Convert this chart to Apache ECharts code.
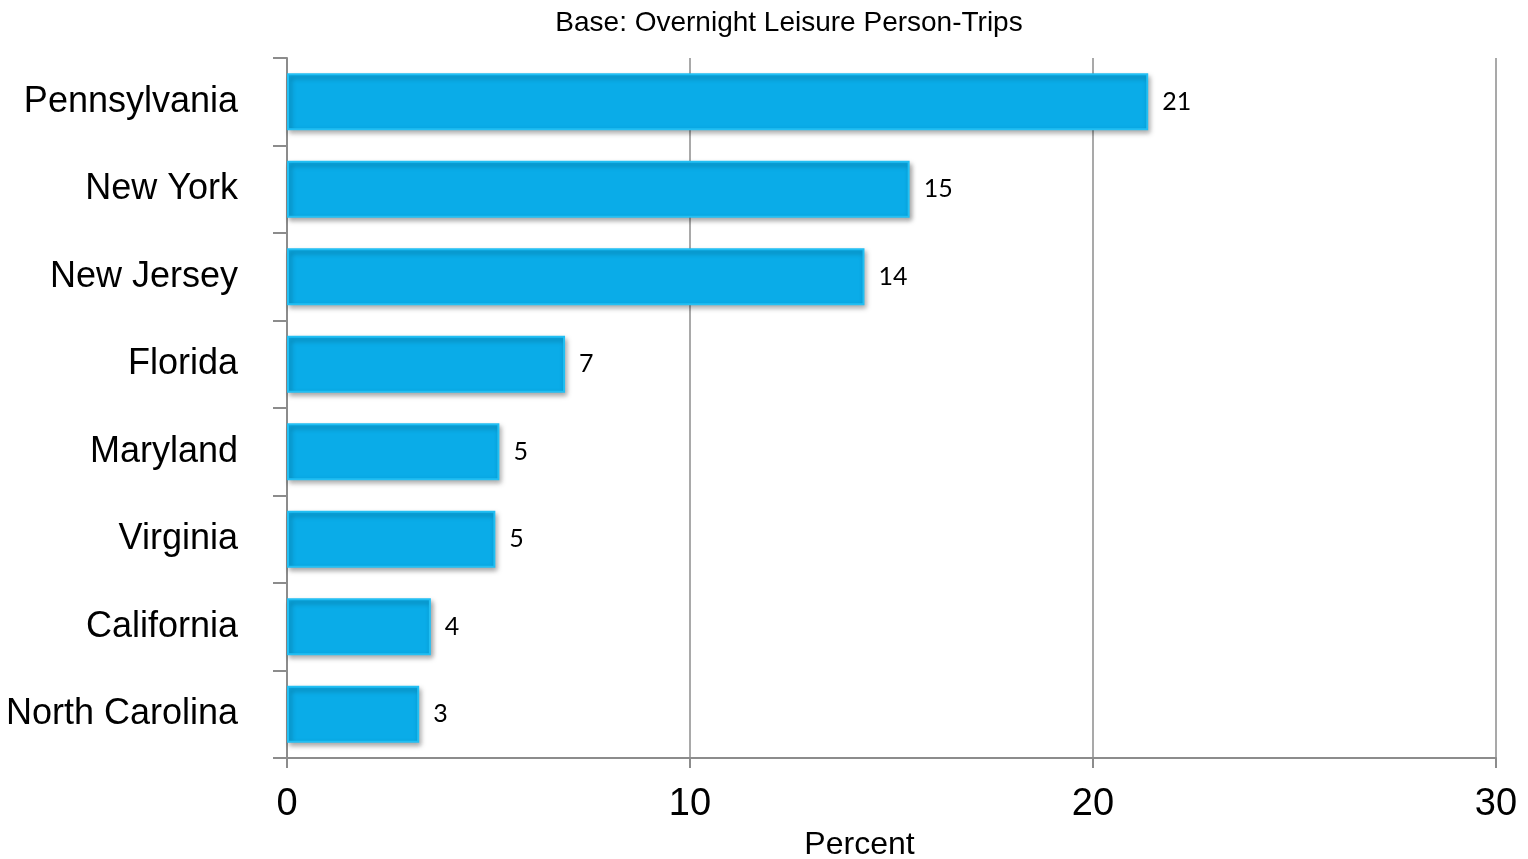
<!DOCTYPE html>
<html>
<head>
<meta charset="utf-8">
<title>Overnight Leisure Person-Trips by Origin State</title>
<script src="https://cdn.jsdelivr.net/npm/echarts@6/dist/echarts.min.js"></script>
<style>
  html, body { margin: 0; padding: 0; background: #fff; }
  #chart { width: 1528px; height: 859px; }
</style>
</head>
<body>
<div id="chart"></div>
<script>
// Origin states, top to bottom
const states = ['Pennsylvania', 'New York', 'New Jersey', 'Florida', 'Maryland', 'Virginia', 'California', 'North Carolina'];
// Share of overnight leisure person-trips (percent)
const shares = [21.37, 15.45, 14.33, 6.9, 5.27, 5.17, 3.57, 3.28];
// Percent axis ticks
const percentTicks = [0, 10, 20, 30];

const chart = echarts.init(document.getElementById('chart'));
const axisGray = '#8c8c8c';
const sans = 'Liberation Sans, Arial, sans-serif';

chart.setOption({
  animation: false,
  title: {
    text: 'Base: Overnight Leisure Person-Trips',
    left: 784,
    textAlign: 'center',
    top: 4,
    textStyle: { fontFamily: sans, fontSize: 28, fontWeight: 'normal', color: '#000' }
  },
  grid: { left: 287, right: 32, top: 58, bottom: 101, outerBoundsMode: 'none' },
  xAxis: {
    type: 'value',
    min: percentTicks[0],
    max: percentTicks[percentTicks.length - 1],
    interval: 10,
    name: 'Percent',
    nameLocation: 'middle',
    nameGap: 71,
    nameTextStyle: { fontFamily: sans, fontSize: 32, color: '#000', padding: [0, 64, 0, 0] },
    axisLine: { show: true, lineStyle: { color: axisGray, width: 2 } },
    axisTick: { show: true, inside: false, length: 10, lineStyle: { color: axisGray, width: 2 } },
    axisLabel: { fontFamily: sans, fontSize: 38, color: '#000', margin: 28 },
    splitLine: { show: true, lineStyle: { color: axisGray, width: 1.5 } }
  },
  yAxis: {
    type: 'category',
    data: states,
    inverse: true,
    axisLine: { show: true, lineStyle: { color: axisGray, width: 2 } },
    axisTick: { show: true, inside: false, length: 14, lineStyle: { color: axisGray, width: 2 } },
    axisLabel: { fontFamily: sans, fontSize: 36, color: '#000', margin: 49 }
  },
  series: [{
    type: 'bar',
    data: shares,
    barCategoryGap: '35%',
    itemStyle: {
      color: '#0aace8',
      borderColor: '#22bff3',
      borderWidth: 2,
      shadowColor: 'rgba(0,0,0,0.35)',
      shadowBlur: 5,
      shadowOffsetX: 2,
      shadowOffsetY: 3
    },
    label: {
      show: true,
      position: 'right',
      distance: 14,
      formatter: p => Math.round(p.value),
      fontFamily: 'Lato, Noto Sans, sans-serif',
      fontSize: 25,
      color: '#000'
    }
  }]
});
</script>
</body>
</html>
